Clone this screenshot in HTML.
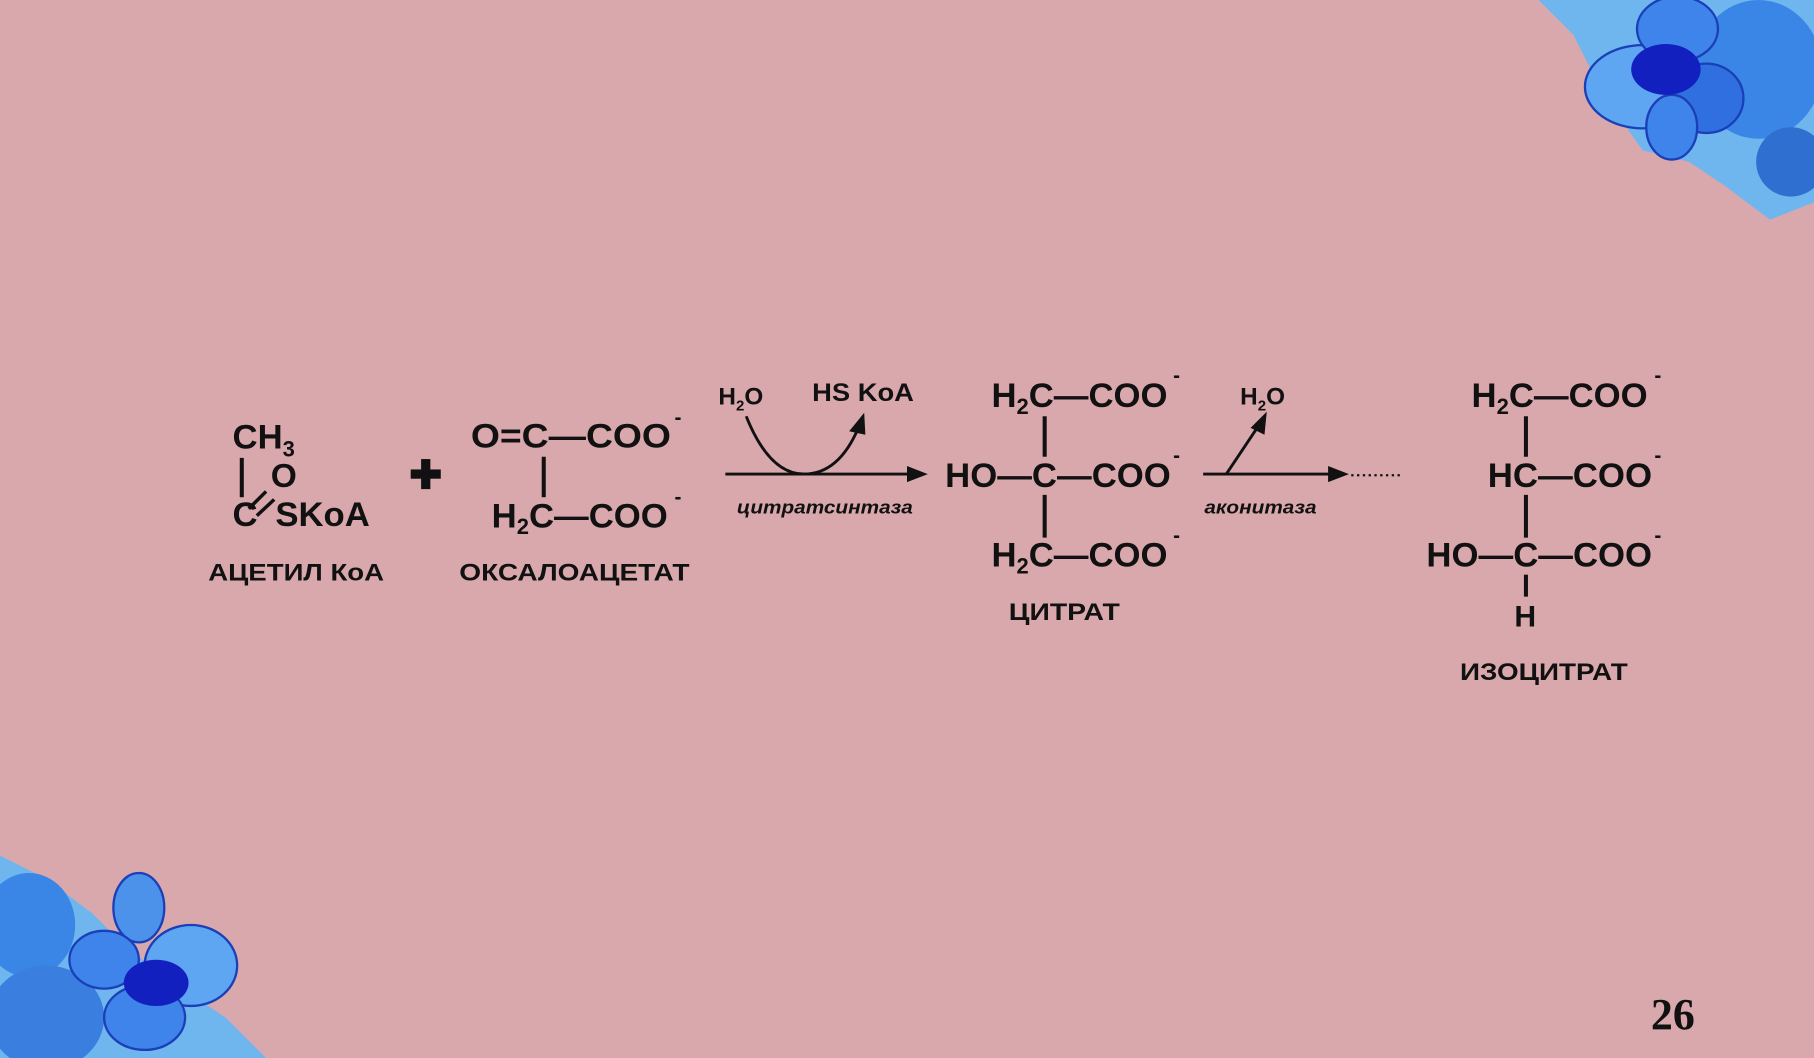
<!DOCTYPE html>
<html><head><meta charset="utf-8">
<style>
html,body{margin:0;padding:0;width:1814px;height:1058px;overflow:hidden;background:#d9a8ad;}
svg{display:block}
text{font-family:"Liberation Sans",sans-serif;font-weight:bold;fill:#111;}
</style></head><body>
<svg width="1814" height="1058" viewBox="0 0 1568 915" preserveAspectRatio="none">
<rect width="1568" height="915" fill="#d9a8ad"/>
<g>
<path d="M1330 0 L1568 0 L1568 175 L1530 190 L1490 160 L1460 140 L1420 130 L1395 95 L1375 60 L1360 30 Z" fill="#6fb6ef"/>
<ellipse cx="1520" cy="60" rx="55" ry="60" fill="#3a86e6"/>
<ellipse cx="1548" cy="140" rx="30" ry="30" fill="#2e6fd0"/>
<ellipse cx="1420" cy="75" rx="50" ry="36" fill="#5ea6f2" stroke="#1a3fb8" stroke-width="2"/>
<ellipse cx="1450" cy="25" rx="35" ry="28" fill="#3f84ea" stroke="#1a3fb8" stroke-width="2"/>
<ellipse cx="1475" cy="85" rx="32" ry="30" fill="#2f6fe0" stroke="#1a3fb8" stroke-width="2"/>
<ellipse cx="1445" cy="110" rx="22" ry="28" fill="#3f84ea" stroke="#1a3fb8" stroke-width="2"/>
<ellipse cx="1440" cy="60" rx="30" ry="22" fill="#1320c0"/>
</g>
<g>
<path d="M0 740 L40 760 L80 790 L110 820 L150 850 L195 880 L230 915 L0 915 Z" fill="#6fb6ef"/>
<ellipse cx="25" cy="800" rx="40" ry="45" fill="#3a86e6"/>
<ellipse cx="40" cy="880" rx="50" ry="45" fill="#3a7fe0"/>
<ellipse cx="120" cy="785" rx="22" ry="30" fill="#4d92ea" stroke="#1a3fb8" stroke-width="2"/>
<ellipse cx="165" cy="835" rx="40" ry="35" fill="#5ea6f2" stroke="#1a3fb8" stroke-width="2"/>
<ellipse cx="90" cy="830" rx="30" ry="25" fill="#3f84ea" stroke="#1a3fb8" stroke-width="2"/>
<ellipse cx="125" cy="880" rx="35" ry="28" fill="#3f84ea" stroke="#1a3fb8" stroke-width="2"/>
<ellipse cx="135" cy="850" rx="28" ry="20" fill="#1320c0"/>
</g>

<g font-size="30">
<!-- Acetyl CoA -->
<text x="201" y="388">CH<tspan font-size="19" dy="7">3</tspan></text>
<text x="234" y="421" font-size="29">O</text>
<text x="201" y="455">C</text>
<text x="238" y="455">SKoA</text>
<line x1="209" y1="396" x2="209" y2="430" stroke="#111" stroke-width="3.5"/>
<line x1="215" y1="440" x2="230" y2="425" stroke="#111" stroke-width="3"/>
<line x1="222" y1="446" x2="237" y2="432" stroke="#111" stroke-width="3"/>
<text x="180" y="502" font-size="21" textLength="152" lengthAdjust="spacingAndGlyphs">АЦЕТИЛ КоА</text>
<rect x="355" y="406" width="26" height="8" fill="#111"/>
<rect x="364" y="397" width="8" height="26" fill="#111"/>
<!-- Oxaloacetate -->
<text x="407" y="387" textLength="173" lengthAdjust="spacingAndGlyphs">O=C—COO</text>
<text x="583" y="367" font-size="18">-</text>
<line x1="470" y1="395" x2="470" y2="430" stroke="#111" stroke-width="3.5"/>
<text x="425" y="456">H<tspan font-size="19" dy="6">2</tspan><tspan dy="-6">C—COO</tspan></text>
<text x="583" y="436" font-size="18">-</text>
<text x="397" y="502" font-size="21" textLength="199" lengthAdjust="spacingAndGlyphs">ОКСАЛОАЦЕТАТ</text>
<!-- arrow 1 -->
<line x1="627" y1="410" x2="788" y2="410" stroke="#111" stroke-width="2.5"/>
<polygon points="802,410 784,403 784,417" fill="#111"/>
<path d="M645 360 Q665 410 695 410 Q725 410 742 370" fill="none" stroke="#111" stroke-width="2.5"/>
<polygon points="747,357 734,373 748,376" fill="#111"/>
<text x="621" y="350" font-size="21">H<tspan font-size="13" dy="5">2</tspan><tspan dy="-5">O</tspan></text>
<text x="702" y="347" font-size="22" textLength="88" lengthAdjust="spacingAndGlyphs">HS KoA</text>
<text x="637" y="444" font-size="16" font-style="italic" textLength="152" lengthAdjust="spacingAndGlyphs">цитратсинтаза</text>
<!-- Citrate -->
<text x="857" y="352">H<tspan font-size="19" dy="6">2</tspan><tspan dy="-6">C—COO</tspan></text>
<text x="1014" y="331" font-size="18">-</text>
<line x1="903" y1="360" x2="903" y2="395" stroke="#111" stroke-width="3.5"/>
<text x="817" y="421" textLength="195" lengthAdjust="spacingAndGlyphs">HO—C—COO</text>
<text x="1014" y="400" font-size="18">-</text>
<line x1="903" y1="428" x2="903" y2="465" stroke="#111" stroke-width="3.5"/>
<text x="857" y="490">H<tspan font-size="19" dy="6">2</tspan><tspan dy="-6">C—COO</tspan></text>
<text x="1014" y="469" font-size="18">-</text>
<text x="872" y="536" font-size="21" textLength="96" lengthAdjust="spacingAndGlyphs">ЦИТРАТ</text>
<!-- arrow 2 -->
<line x1="1040" y1="410" x2="1152" y2="410" stroke="#111" stroke-width="2.5"/>
<polygon points="1166,410 1148,403 1148,417" fill="#111"/>
<line x1="1168" y1="411" x2="1210" y2="411" stroke="#111" stroke-width="2" stroke-dasharray="2,3"/>
<line x1="1060" y1="410" x2="1088" y2="368" stroke="#111" stroke-width="2.5"/>
<polygon points="1095,356 1081,370 1093,376" fill="#111"/>
<text x="1072" y="350" font-size="21">H<tspan font-size="13" dy="5">2</tspan><tspan dy="-5">O</tspan></text>
<text x="1041" y="444" font-size="16" font-style="italic" textLength="97" lengthAdjust="spacingAndGlyphs">аконитаза</text>
<!-- Isocitrate -->
<text x="1272" y="352">H<tspan font-size="19" dy="6">2</tspan><tspan dy="-6">C—COO</tspan></text>
<text x="1430" y="331" font-size="18">-</text>
<line x1="1319" y1="360" x2="1319" y2="395" stroke="#111" stroke-width="3.5"/>
<text x="1286" y="421" textLength="142" lengthAdjust="spacingAndGlyphs">HC—COO</text>
<text x="1430" y="400" font-size="18">-</text>
<line x1="1319" y1="428" x2="1319" y2="465" stroke="#111" stroke-width="3.5"/>
<text x="1233" y="490" textLength="195" lengthAdjust="spacingAndGlyphs">HO—C—COO</text>
<text x="1430" y="469" font-size="18">-</text>
<line x1="1319" y1="497" x2="1319" y2="516" stroke="#111" stroke-width="3.5"/>
<text x="1309" y="542" font-size="26">H</text>
<text x="1262" y="588" font-size="21" textLength="145" lengthAdjust="spacingAndGlyphs">ИЗОЦИТРАТ</text>
</g>
<text x="1427" y="890" style="font-family:'Liberation Serif',serif;font-size:38px;font-weight:bold">26</text>
</svg>
</body></html>
